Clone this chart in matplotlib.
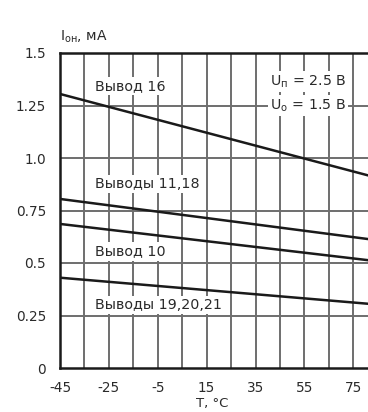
import matplotlib
matplotlib.use("Agg")
import matplotlib.pyplot as plt
import numpy as np

plt.rcParams['font.family'] = ['DejaVu Sans']
plt.rcParams['mathtext.fontset'] = 'dejavusans'

# Data
temps = [-45, 85]
pin16 = [1.305, 0.905]
pins_11_18 = [0.805, 0.608]
pin10 = [0.686, 0.508]
pins_19_21 = [0.43, 0.302]

xticks = [-45, -25, -5, 15, 35, 55, 75]
yticks = [0, 0.25, 0.5, 0.75, 1.0, 1.25, 1.5]
yticklabels = ['0', '0.25', '0.5', '0.75', '1.0', '1.25', '1.5']

fig = plt.figure(figsize=(3.68, 4.12), dpi=100)
ax = fig.add_axes([60/368, 44/412, 1 - 60/368, (368-53)/412])

ax.set_xlim(-45, 81)
ax.set_ylim(0, 1.5)

grid_col = '#6e6e6e'
for x in range(-35, 81, 10):
    ax.axvline(x, color=grid_col, lw=1.4, zorder=1)
for y in yticks[1:-1]:
    ax.axhline(y, color=grid_col, lw=1.4, zorder=1)

lw = 1.8
ax.plot(temps, pin16, color='#1a1a1a', lw=lw, zorder=3)
ax.plot(temps, pins_11_18, color='#1a1a1a', lw=lw, zorder=3)
ax.plot(temps, pin10, color='#1a1a1a', lw=lw, zorder=3)
ax.plot(temps, pins_19_21, color='#1a1a1a', lw=lw, zorder=3)

bb = dict(facecolor='white', edgecolor='none', pad=1.5)
fs = 10.3
tc = '#2a2a2a'
ax.text(-30.5, 1.343, 'Вывод 16', fontsize=fs, color=tc, va='center', ha='left', bbox=bb, zorder=4)
ax.text(-30.5, 0.875, 'Выводы 11,18', fontsize=fs, color=tc, va='center', ha='left', bbox=bb, zorder=4)
ax.text(-30.5, 0.555, 'Вывод 10', fontsize=fs, color=tc, va='center', ha='left', bbox=bb, zorder=4)
ax.text(-30.5, 0.30, 'Выводы 19,20,21', fontsize=fs, color=tc, va='center', ha='left', bbox=bb, zorder=4)
ax.text(41, 1.365, r'U$_\mathrm{п}$ = 2.5 В', fontsize=fs, color=tc, va='center', ha='left', bbox=bb, zorder=4)
ax.text(41, 1.25, r'U$_\mathrm{о}$ = 1.5 В', fontsize=fs, color=tc, va='center', ha='left', bbox=bb, zorder=4)

ax.set_xticks(xticks)
ax.set_xticklabels([str(t) for t in xticks])
ax.set_yticks(yticks)
ax.set_yticklabels(yticklabels)
ax.tick_params(axis='y', length=0, labelsize=9.8, colors=tc, pad=10)
ax.tick_params(axis='x', length=0, labelsize=9.8, colors=tc, pad=9)

for s in ['left', 'top', 'bottom']:
    ax.spines[s].set_linewidth(1.8)
    ax.spines[s].set_color('#1a1a1a')
ax.spines['right'].set_visible(False)

fig.text(60/368, 1 - 37/412, r'I$_\mathrm{он}$, мА', fontsize=10, color=tc, ha='left', va='center')
fig.text(212/368, 1 - 404/412, 'T, °C', fontsize=9.5, color=tc, ha='center', va='center')

fig.savefig('out.png', dpi=100, facecolor='white')
